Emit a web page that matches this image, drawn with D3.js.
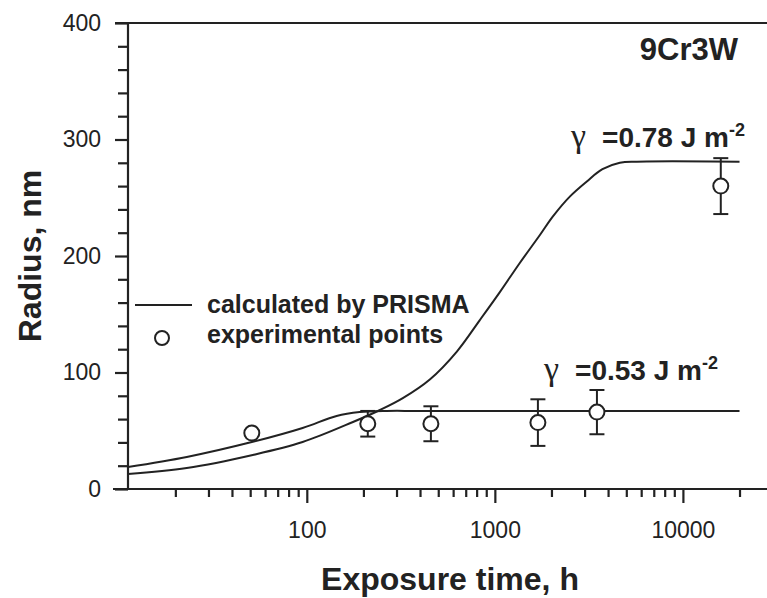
<!DOCTYPE html>
<html>
<head>
<meta charset="utf-8">
<script src="https://cdn.jsdelivr.net/npm/d3@7"></script>
<style>
  body { margin: 0; background: #fff; }
  svg { display: block; font-family: "Liberation Sans", Arial, sans-serif; }
</style>
</head>
<body>
<div id="chart"></div>
<script>
var w = 767;
var h = 598;

// calculated curves (PRISMA), time in h, radius in nm
var curveLowT = [11.2, 23, 51, 95, 144, 191, 266, 400, 20000];
var curveLowR = [18.9, 27.5, 40.3, 52.4, 62.7, 66, 67, 67, 67];
var curveHighT = [11.2, 23, 51.6, 95, 176, 245, 324, 451, 628, 832, 1063, 1357, 1736, 2036, 2503, 3083, 3734, 4620, 5690, 20000];
var curveHighR = [12.9, 18, 29.2, 40.3, 57.5, 67.8, 78, 94, 118, 145, 169, 194, 218, 234, 251, 264, 274.5, 280, 281, 281];

// experimental points
var expT = [51, 211, 457, 1694, 3490, 15900];
var expR = [48, 56, 56, 57, 66, 260];
var expErr = [2, 11, 15, 20, 19, 24];

var yTicks = [0, 100, 200, 300, 400];
var xTicks = [100, 1000, 10000];

var xScale = d3.scaleLog().domain([11.2, 28000]).range([128, 767]);
var yScale = d3.scaleLinear().domain([0, 400]).range([489, 23]);

var ink = "#222";

var svg = d3.select("#chart").append("svg")
    .attr("width", w)
    .attr("height", h);

// minor tick values
var xMinor = [];
[10, 100, 1000, 10000].forEach(function(d) {
    for (var k = 2; k <= 9; k++) {
        var v = d * k;
        if (v > 11.2 && v < 28000) xMinor.push(v);
    }
});
var yMinor = d3.range(20, 400, 20).filter(function(d) { return d % 100 !== 0; });

// minor ticks first
svg.append("g")
    .attr("transform", "translate(0,489)")
    .call(d3.axisBottom(xScale).tickValues(xMinor).tickSize(8).tickFormat(""))
    .call(function(g) { g.select(".domain").remove(); });
svg.append("g")
    .attr("transform", "translate(128,0)")
    .call(d3.axisLeft(yScale).tickValues(yMinor).tickSize(10).tickFormat(""))
    .call(function(g) { g.select(".domain").remove(); });

// major axes
var xAxis = svg.append("g")
    .attr("transform", "translate(0,489)")
    .call(d3.axisBottom(xScale).tickValues(xTicks).tickSize(14).tickSizeOuter(0)
        .tickPadding(19).tickFormat(d3.format("d")));
var yAxis = svg.append("g")
    .attr("transform", "translate(128,0)")
    .call(d3.axisLeft(yScale).tickValues(yTicks).tickSize(13).tickSizeOuter(0)
        .tickPadding(14));

xAxis.select(".domain").attr("d", "M113,0H767");
yAxis.select(".domain").attr("d", "M0,489V23");

svg.selectAll(".tick line").attr("stroke", ink).attr("stroke-width", 2.2);
svg.selectAll(".domain").attr("stroke", ink).attr("stroke-width", 2.2);
svg.selectAll(".tick text")
    .attr("fill", ink)
    .style("font-size", "23px")
    .style("font-family", "'Liberation Sans', Arial, sans-serif");

// top frame line
svg.append("line")
    .attr("x1", 115).attr("x2", 767)
    .attr("y1", yScale(400)).attr("y2", yScale(400))
    .attr("stroke", ink).attr("stroke-width", 2.2);

// curves
var line = d3.line()
    .x(function(d) { return xScale(d[0]); })
    .y(function(d) { return yScale(d[1]); })
    .curve(d3.curveCatmullRom.alpha(0.5));

svg.append("path")
    .datum(d3.zip(curveLowT, curveLowR))
    .attr("d", line)
    .attr("fill", "none").attr("stroke", ink).attr("stroke-width", 2);

svg.append("path")
    .datum(d3.zip(curveHighT, curveHighR))
    .attr("d", line)
    .attr("fill", "none").attr("stroke", ink).attr("stroke-width", 2);

// experimental points with error bars
var pts = d3.range(expT.length).map(function(i) {
    return { t: expT[i], r: expR[i], e: expErr[i] };
});

var eb = svg.append("g").attr("stroke", ink).attr("stroke-width", 2);
pts.forEach(function(d) {
    var x = xScale(d.t);
    eb.append("line").attr("x1", x).attr("x2", x)
        .attr("y1", yScale(d.r - d.e)).attr("y2", yScale(d.r + d.e));
    [d.r - d.e, d.r + d.e].forEach(function(v) {
        eb.append("line").attr("x1", x - 7.5).attr("x2", x + 7.5)
            .attr("y1", yScale(v)).attr("y2", yScale(v));
    });
});

svg.selectAll(".pt")
    .data(pts)
    .enter().append("circle")
    .attr("class", "pt")
    .attr("cx", function(d) { return xScale(d.t); })
    .attr("cy", function(d) { return yScale(d.r); })
    .attr("r", 7.5)
    .attr("fill", "#fff")
    .attr("stroke", ink)
    .attr("stroke-width", 2);

// legend
svg.append("line")
    .attr("x1", 135).attr("x2", 192)
    .attr("y1", 305).attr("y2", 305)
    .attr("stroke", ink).attr("stroke-width", 2);
svg.append("circle")
    .attr("cx", 162).attr("cy", 338).attr("r", 7)
    .attr("fill", "#fff").attr("stroke", ink).attr("stroke-width", 2);
svg.append("text")
    .attr("x", 207).attr("y", 313)
    .attr("fill", ink)
    .style("font-size", "25px").style("font-weight", "bold")
    .text("calculated by PRISMA");
svg.append("text")
    .attr("x", 207).attr("y", 343)
    .attr("fill", ink)
    .style("font-size", "25px").style("font-weight", "bold")
    .text("experimental points");

// annotations
svg.append("text")
    .attr("x", 738).attr("y", 60)
    .attr("text-anchor", "end")
    .attr("fill", ink)
    .style("font-size", "31px").style("font-weight", "bold")
    .text("9Cr3W");

function gammaLabel(x, y, value) {
    var t = svg.append("text")
        .attr("x", x).attr("y", y)
        .attr("fill", ink);
    t.append("tspan")
        .style("font-family", "'Liberation Serif', 'DejaVu Serif', serif")
        .style("font-size", "34px")
        .text("γ");
    t.append("tspan")
        .attr("dx", 16)
        .style("font-size", "28px").style("font-weight", "bold")
        .text("=" + value + " J m");
    t.append("tspan")
        .attr("dy", -11)
        .style("font-size", "18px").style("font-weight", "bold")
        .text("-2");
}
gammaLabel(571, 147, "0.78");
gammaLabel(544, 380, "0.53");

// axis titles
svg.append("text")
    .attr("x", 450).attr("y", 590)
    .attr("text-anchor", "middle")
    .attr("fill", ink)
    .style("font-size", "32px").style("font-weight", "bold")
    .text("Exposure time, h");

svg.append("text")
    .attr("transform", "translate(41,256) rotate(-90)")
    .attr("text-anchor", "middle")
    .attr("fill", ink)
    .style("font-size", "32px").style("font-weight", "bold")
    .text("Radius, nm");
</script>
</body>
</html>
